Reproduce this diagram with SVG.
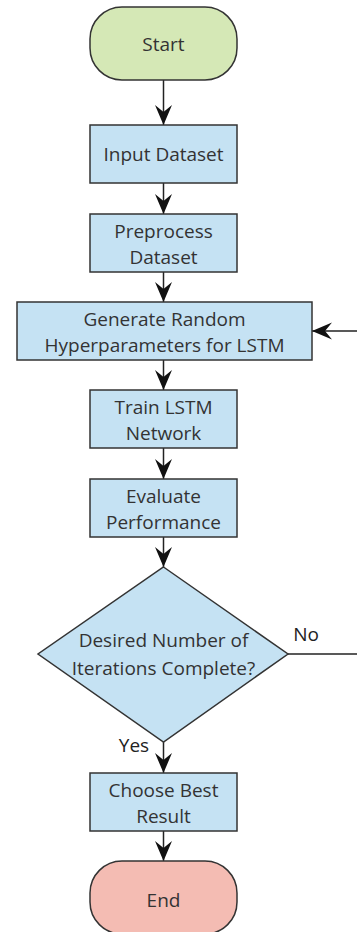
<svg xmlns="http://www.w3.org/2000/svg" width="357" height="932" viewBox="0 0 357 932">
  <defs>
    <marker id="arrow" markerUnits="userSpaceOnUse" markerWidth="22" markerHeight="18" viewBox="-21 -9 22 18" refX="0" refY="0" orient="auto">
      <path d="M0,0 L-20,-8.5 L-13,0 L-20,8.5 Z" fill="#111"/>
    </marker>
    <style>
      .terminal-start { fill: #d5e8b6; stroke: #333; stroke-width: 1.5; }
      .terminal-end { fill: #f4bcb3; stroke: #333; stroke-width: 1.5; }
      .process { fill: #c5e2f3; stroke: #333; stroke-width: 1.5; }
      .label { font-family: "Open Sans", "Noto Sans", sans-serif; font-size: 19px; fill: #333; text-anchor: middle; }
      .edge { stroke: #222; stroke-width: 1.5; fill: none; }
      .edge-label { font-family: "Open Sans", "Noto Sans", sans-serif; font-size: 19px; fill: #222; text-anchor: middle; }
    </style>
  </defs>

  <g id="connectors">
    <line class="edge" x1="163.5" y1="80" x2="163.5" y2="125" marker-end="url(#arrow)"/>
    <line class="edge" x1="163.5" y1="183" x2="163.5" y2="214" marker-end="url(#arrow)"/>
    <line class="edge" x1="163.5" y1="272" x2="163.5" y2="302" marker-end="url(#arrow)"/>
    <line class="edge" x1="163.5" y1="360" x2="163.5" y2="390" marker-end="url(#arrow)"/>
    <line class="edge" x1="163.5" y1="448" x2="163.5" y2="479" marker-end="url(#arrow)"/>
    <line class="edge" x1="163.5" y1="537" x2="163.5" y2="567" marker-end="url(#arrow)"/>
    <line class="edge" x1="163.5" y1="742" x2="163.5" y2="773" marker-end="url(#arrow)"/>
    <line class="edge" x1="163.5" y1="831" x2="163.5" y2="861" marker-end="url(#arrow)"/>
    <!-- "No" branch loops back to the hyperparameter step -->
    <line class="edge" x1="288" y1="654" x2="357" y2="654"/>
    <line class="edge" x1="357" y1="331" x2="312" y2="331" marker-end="url(#arrow)"/>
    <text class="edge-label" x="306" y="641">No</text>
    <text class="edge-label" x="134" y="752">Yes</text>
  </g>

  <g id="start">
    <rect class="terminal-start" x="90" y="7" width="147" height="73" rx="32" ry="32"/>
    <text class="label" x="163.5" y="51">Start</text>
  </g>

  <g id="input-dataset">
    <rect class="process" x="90" y="125" width="147" height="58"/>
    <text class="label" x="163.5" y="161">Input Dataset</text>
  </g>

  <g id="preprocess-dataset">
    <rect class="process" x="90" y="214" width="147" height="58"/>
    <text class="label" x="163.5" y="238">Preprocess</text>
    <text class="label" x="163.5" y="264">Dataset</text>
  </g>

  <g id="generate-hyperparameters">
    <rect class="process" x="17" y="302" width="295" height="58"/>
    <text class="label" x="164.5" y="326">Generate Random</text>
    <text class="label" x="164.5" y="352">Hyperparameters for LSTM</text>
  </g>

  <g id="train-lstm">
    <rect class="process" x="90" y="390" width="147" height="58"/>
    <text class="label" x="163.5" y="414">Train LSTM</text>
    <text class="label" x="163.5" y="440">Network</text>
  </g>

  <g id="evaluate-performance">
    <rect class="process" x="90" y="479" width="147" height="58"/>
    <text class="label" x="163.5" y="503">Evaluate</text>
    <text class="label" x="163.5" y="529">Performance</text>
  </g>

  <g id="iterations-check">
    <polygon class="process" points="163.5,567 288,654 163.5,742 38,654"/>
    <text class="label" x="163.5" y="647">Desired Number of</text>
    <text class="label" x="163.5" y="675">Iterations Complete?</text>
  </g>

  <g id="choose-best">
    <rect class="process" x="90" y="773" width="147" height="58"/>
    <text class="label" x="163.5" y="797">Choose Best</text>
    <text class="label" x="163.5" y="823">Result</text>
  </g>

  <g id="end">
    <rect class="terminal-end" x="90" y="861" width="147" height="73" rx="32" ry="32"/>
    <text class="label" x="163.5" y="907">End</text>
  </g>
</svg>
